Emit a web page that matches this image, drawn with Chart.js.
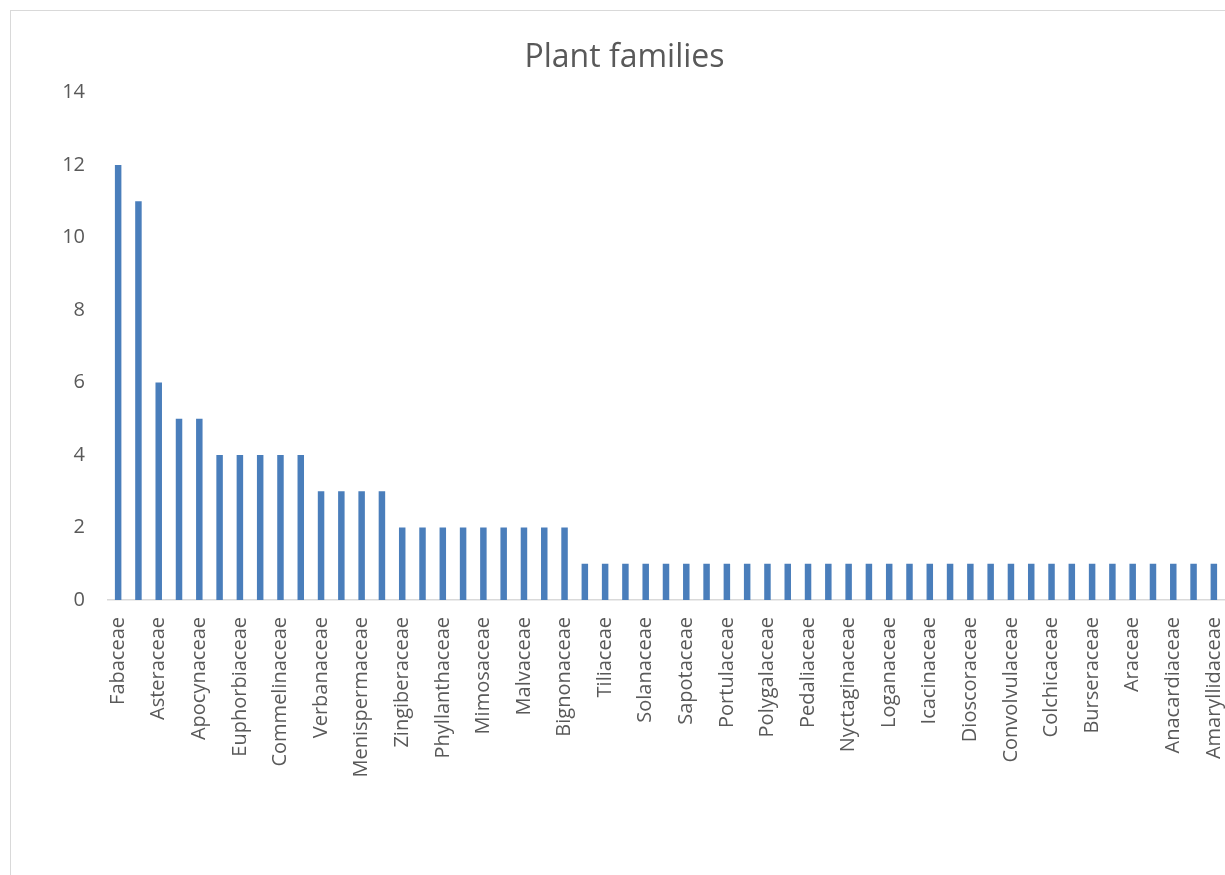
<!DOCTYPE html>
<html>
<head>
<meta charset="utf-8">
<script src="https://cdn.jsdelivr.net/npm/chart.js@4"></script>
<style>
    html, body { margin: 0; padding: 0; background: #fff; overflow: hidden; }
    #wrap {
        position: absolute; left: 10px; top: 10px;
        width: 1227px; height: 878px;
        border: 1px solid #d9d9d9;
    }
</style>
</head>
<body>
<div id="wrap"><canvas id="familyChart"></canvas></div>
<script>
const families = [
    'Fabaceae', 'Poaceae', 'Asteraceae', 'Rubiaceae', 'Apocynaceae',
    'Lamiaceae', 'Euphorbiaceae', 'Cucurbitaceae', 'Commelinaceae', 'Acanthaceae',
    'Verbanaceae', 'Rutaceae', 'Menispermaceae', 'Capparaceae',
    'Zingiberaceae', 'Sterculiaceae', 'Phyllanthaceae', 'Moraceae', 'Mimosaceae',
    'Meliaceae', 'Malvaceae', 'Combretaceae', 'Bignonaceae',
    'Vitaceae', 'Tiliaceae', 'Sphenocleaceae', 'Solanaceae', 'Scrophulariaceae',
    'Sapotaceae', 'Rhamnaceae', 'Portulaceae', 'Polygonaceae', 'Polygalaceae',
    'Piperaceae', 'Pedaliaceae', 'Oleaceae', 'Nyctaginaceae', 'Myrtaceae',
    'Loganaceae', 'Lecythidaceae', 'Icacinaceae', 'Ebenaceae', 'Dioscoraceae',
    'Cyperaceae', 'Convolvulaceae', 'Connaraceae', 'Colchicaceae', 'Celastraceae',
    'Burseraceae', 'Boraginaceae', 'Araceae', 'Annonaceae', 'Anacardiaceae',
    'Ampelidaceae', 'Amaryllidaceae'
];

const counts = [
    12, 11, 6, 5, 5,
    4, 4, 4, 4, 4,
    3, 3, 3, 3,
    2, 2, 2, 2, 2, 2, 2, 2, 2,
    1, 1, 1, 1, 1, 1, 1, 1, 1, 1,
    1, 1, 1, 1, 1, 1, 1, 1, 1, 1,
    1, 1, 1, 1, 1, 1, 1, 1, 1, 1,
    1, 1
];

const yTicks = [0, 2, 4, 6, 8, 10, 12, 14];

const textColor = '#595959';
const fontFamily = '"Open Sans", sans-serif';

const ctx = document.getElementById('familyChart').getContext('2d');
new Chart(ctx, {
    type: 'bar',
    data: {
        labels: families,
        datasets: [{
            label: 'Plant families',
            data: counts,
            backgroundColor: '#4A7EBB',
            barPercentage: 0.32,
            categoryPercentage: 1.0
        }]
    },
    options: {
        responsive: true,
        maintainAspectRatio: false,
        animation: false,
        layout: { padding: 0 },
        plugins: {
            legend: { display: false },
            tooltip: { enabled: false },
            title: {
                display: true,
                text: 'Plant families',
                color: textColor,
                font: { family: fontFamily, size: 32, weight: 'normal' },
                padding: { top: 28, bottom: 15 }
            }
        },
        scales: {
            x: {
                grid: { display: false, drawTicks: false },
                border: { display: true, color: '#d9d9d9', width: 1.5 },
                ticks: {
                    autoSkip: false,
                    minRotation: 90,
                    maxRotation: 90,
                    padding: 17,
                    color: textColor,
                    font: { family: fontFamily, size: 20 },
                    callback: function (v, i) {
                        return i % 2 === 0 ? this.getLabelForValue(v) : '';
                    }
                },
                afterFit: function (s) {
                    s.height = 289;
                    s.paddingLeft = 0;
                    s.paddingRight = 14;
                }
            },
            y: {
                min: yTicks[0],
                max: yTicks[yTicks.length - 1],
                grid: { display: false, drawTicks: false },
                border: { display: false },
                afterBuildTicks: function (s) {
                    s.ticks = yTicks.map(v => ({ value: v }));
                },
                ticks: {
                    padding: 23,
                    color: textColor,
                    font: { family: fontFamily, size: 20 }
                },
                afterFit: function (s) { s.width = 97; }
            }
        }
    }
});
</script>
</body>
</html>
